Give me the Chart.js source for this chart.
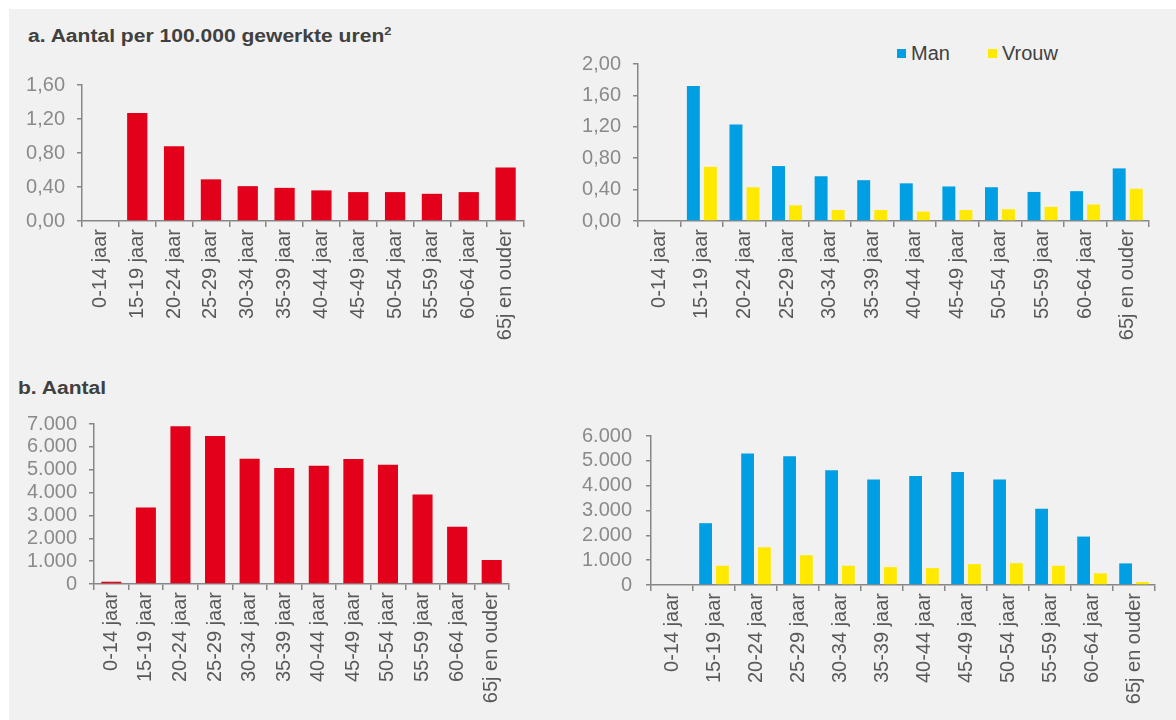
<!DOCTYPE html>
<html>
<head>
<meta charset="utf-8">
<script src="https://cdn.jsdelivr.net/npm/chart.js@4/dist/chart.umd.min.js"></script>
<style>
  html, body { margin: 0; padding: 0; background: #ffffff; width: 1176px; height: 720px; overflow: hidden; }
  #panel { position: absolute; left: 9px; top: 9px; width: 1167px; height: 711px; background: #f1f1f1; }
  .box { position: absolute; }
  .title { position: absolute; font-family: "Liberation Sans", Arial, sans-serif; font-weight: bold; font-size: 18px; color: #404040; white-space: nowrap; transform: scaleX(1.17); transform-origin: 0 0; line-height: 20px; }
  .title sup { font-size: 11px; vertical-align: 7px; line-height: 0; }
  #legend { position: absolute; left: 897px; top: 42px; font-family: "Liberation Sans", Arial, sans-serif; font-size: 20px; color: #404040; white-space: nowrap; }
  #legend span.sw { display: inline-block; width: 9px; height: 9px; margin-right: 5px; vertical-align: 2px; }
</style>
</head>
<body>
<div id="panel"></div>
<div class="title" style="left:28px; top:26px;">a. Aantal per 100.000 gewerkte uren<sup>2</sup></div>
<div class="title" style="left:18px; top:378px;">b. Aantal</div>
<div id="legend"><span class="sw" style="background:#009fe3"></span>Man<span style="display:inline-block;width:38px"></span><span class="sw" style="background:#ffe900"></span>Vrouw</div>

<div class="box" style="left:10px; top:40px; width:530px; height:330px;"><canvas id="c1"></canvas></div>
<div class="box" style="left:560px; top:40px; width:610px; height:330px;"><canvas id="c2"></canvas></div>
<div class="box" style="left:10px; top:400px; width:530px; height:320px;"><canvas id="c3"></canvas></div>
<div class="box" style="left:560px; top:400px; width:610px; height:320px;"><canvas id="c4"></canvas></div>

<script>
const categories = ['0-14 jaar', '15-19 jaar', '20-24 jaar', '25-29 jaar', '30-34 jaar', '35-39 jaar',
                    '40-44 jaar', '45-49 jaar', '50-54 jaar', '55-59 jaar', '60-64 jaar', '65j en ouder'];

// a. Aantal per 100.000 gewerkte uren
const rateTotal  = [0, 1.27, 0.88, 0.49, 0.41, 0.39, 0.36, 0.34, 0.34, 0.32, 0.34, 0.63];
const rateMan    = [0, 1.72, 1.23, 0.70, 0.57, 0.52, 0.48, 0.44, 0.43, 0.37, 0.38, 0.67];
const rateVrouw  = [0, 0.69, 0.43, 0.20, 0.14, 0.14, 0.12, 0.14, 0.15, 0.18, 0.21, 0.41];

// b. Aantal
const countTotal = [100, 3350, 6900, 6480, 5480, 5070, 5170, 5470, 5220, 3920, 2500, 1050];
const countMan   = [0, 2490, 5300, 5180, 4620, 4250, 4390, 4550, 4250, 3070, 1950, 870];
const countVrouw = [0, 775, 1520, 1200, 775, 720, 680, 840, 880, 775, 470, 120];

const seriesNames = ['Man', 'Vrouw'];

const RED = '#e2001a', BLUE = '#009fe3', YELLOW = '#ffe900';
const AXIS = '#878787', TICKCOL = '#8a8a8a', LABCOL = '#595959';
const FONT = '"Liberation Sans", Arial, sans-serif';

const fmtRate = v => v.toFixed(2).replace('.', ',');
const fmtCount = v => String(Math.round(v)).replace(/\B(?=(\d{3})+(?!\d))/g, '.');

function makeChart(id, datasets, opts) {
  new Chart(document.getElementById(id), {
    type: 'bar',
    data: { labels: categories, datasets: datasets },
    options: {
      responsive: true,
      maintainAspectRatio: false,
      animation: false,
      layout: { padding: { top: opts.padTop, right: opts.padRight, left: 0, bottom: 0 } },
      plugins: { legend: { display: false }, tooltip: { enabled: false } },
      datasets: { bar: { categoryPercentage: opts.catPct, barPercentage: opts.barPct } },
      scales: {
        x: {
          offset: true,
          grid: { display: true, offset: true, drawOnChartArea: false, drawTicks: true, tickLength: 6, color: AXIS, lineWidth: 1.5 },
          border: { display: true, color: AXIS, width: 1.5 },
          ticks: { autoSkip: false, maxRotation: 90, minRotation: 90, padding: 2, color: LABCOL,
                   font: { family: FONT, size: opts.xFont } },
          afterFit: s => { s.height = opts.xHeight; }
        },
        y: {
          min: 0, max: opts.max,
          grid: { display: true, drawOnChartArea: false, drawTicks: true, tickLength: 5, color: AXIS, lineWidth: 1.5 },
          border: { display: true, color: AXIS, width: 1.5 },
          ticks: { stepSize: opts.step, autoSkip: false, padding: opts.yPad, color: TICKCOL,
                   font: { family: FONT, size: opts.yFont }, callback: opts.fmt },
          afterFit: s => { s.width = opts.yWidth; }
        }
      }
    }
  });
}

makeChart('c1', [{ data: rateTotal, backgroundColor: RED }],
  { padTop: 45, padRight: 16, yWidth: 72, xHeight: 149, max: 1.6, step: 0.4, fmt: fmtRate,
    catPct: 1, barPct: 0.55, xFont: 20, yFont: 20, yPad: 12 });

makeChart('c2', [{ label: seriesNames[0], data: rateMan, backgroundColor: BLUE },
                 { label: seriesNames[1], data: rateVrouw, backgroundColor: YELLOW }],
  { padTop: 22, padRight: 21, yWidth: 78, xHeight: 149, max: 2.0, step: 0.4, fmt: fmtRate,
    catPct: 0.8, barPct: 0.76, xFont: 20, yFont: 20, yPad: 12 });

makeChart('c3', [{ data: countTotal, backgroundColor: RED }],
  { padTop: 19, padRight: 31, yWidth: 84, xHeight: 136, max: 7000, step: 1000, fmt: fmtCount,
    catPct: 1, barPct: 0.58, xFont: 20, yFont: 20, yPad: 12 });

makeChart('c4', [{ label: seriesNames[0], data: countMan, backgroundColor: BLUE },
                 { label: seriesNames[1], data: countVrouw, backgroundColor: YELLOW }],
  { padTop: 36, padRight: 15, yWidth: 91, xHeight: 135, max: 6000, step: 1000, fmt: fmtCount,
    catPct: 0.8, barPct: 0.76, xFont: 20, yFont: 20, yPad: 14 });
</script>
</body>
</html>
